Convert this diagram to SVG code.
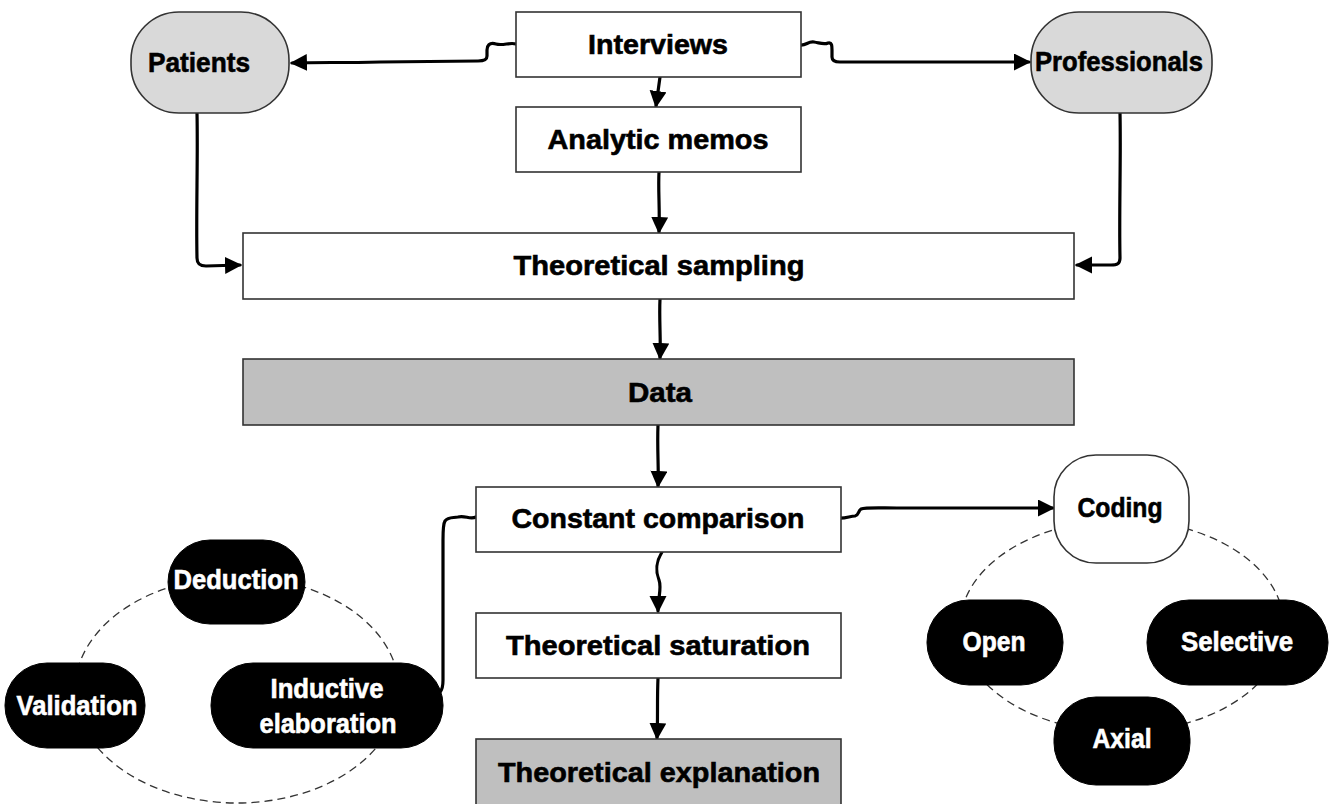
<svg xmlns="http://www.w3.org/2000/svg" width="1333" height="804" viewBox="0 0 1333 804">
  <defs>
    <marker id="arrow" markerWidth="19" markerHeight="18" refX="15" refY="8.5" orient="auto" markerUnits="userSpaceOnUse">
      <path d="M0,0 L17,8.5 L0,17 Z" fill="#000"/>
    </marker>
    <style>
      .box { fill: #ffffff; stroke: #333333; stroke-width: 1.6; }
      .soft { fill: #d9d9d9; stroke: #333333; stroke-width: 1.6; }
      .dark { fill: #bfbfbf; stroke: #333333; stroke-width: 1.6; }
      .pill { fill: #000000; stroke: #000000; stroke-width: 1; }
      .ring { fill: none; stroke: #333333; stroke-width: 1.3; stroke-dasharray: 8 5; }
      .link { fill: none; stroke: #000000; stroke-width: 3.2; stroke-linecap: round; stroke-linejoin: round; }
      .lbl { font-family: "Liberation Sans", Arial, sans-serif; font-weight: bold; font-size: 28px; text-anchor: middle; fill: #000000; stroke: #000000; stroke-width: 0.6; }
      .inv { fill: #ffffff; stroke: #ffffff; }
    </style>
  </defs>

  <rect x="0" y="0" width="1333" height="804" fill="#ffffff"/>

  <!-- dashed cycles behind the method pills -->
  <g id="cycles">
    <ellipse class="ring" cx="237" cy="690" rx="162" ry="113"/>
    <ellipse class="ring" cx="1122" cy="626" rx="162" ry="106"/>
  </g>

  <!-- connectors -->
  <g id="connectors">
    <!-- Interviews -> Patients -->
    <path class="link" marker-end="url(#arrow)" d="M516,44 C510,42 503,46 496,44 C489,42 487,46 487,50 L487,56 C487,60 484,61 478,61 L380,62 C340,63 320,62 292,63"/>
    <!-- Interviews -> Professionals -->
    <path class="link" marker-end="url(#arrow)" d="M800,45 C806,46 808,41 814,42 C820,43 824,45 828,43 C832,42 832,46 832,50 L832,57 C832,60 835,62 840,62 L1029,62"/>
    <!-- Interviews -> Analytic memos -->
    <path class="link" marker-end="url(#arrow)" d="M660,77 L656,106"/>
    <!-- Analytic memos -> Theoretical sampling -->
    <path class="link" marker-end="url(#arrow)" d="M659,172 C658,190 660,210 659,232"/>
    <!-- Patients -> Theoretical sampling -->
    <path class="link" marker-end="url(#arrow)" d="M197,113 C198,160 196,210 197,258 C197,264 200,266 206,266 L240,265"/>
    <!-- Professionals -> Theoretical sampling -->
    <path class="link" marker-end="url(#arrow)" d="M1120,113 C1121,160 1119,210 1120,258 C1120,264 1117,265 1111,265 L1077,265"/>
    <!-- Theoretical sampling -> Data -->
    <path class="link" marker-end="url(#arrow)" d="M660,299 C659,320 661,340 660,358"/>
    <!-- Data -> Constant comparison -->
    <path class="link" marker-end="url(#arrow)" d="M658,425 C657,450 659,470 658,486"/>
    <!-- Constant comparison -> Theoretical saturation -->
    <path class="link" marker-end="url(#arrow)" d="M662,552 C656,562 655,570 659,580 C662,588 658,598 658,611"/>
    <!-- Theoretical saturation -> Theoretical explanation -->
    <path class="link" marker-end="url(#arrow)" d="M658,678 C657,700 658,720 657,738"/>
    <!-- Constant comparison -> Coding -->
    <path class="link" marker-end="url(#arrow)" d="M838,518 C845,519 850,516 855,516 C859,515 858,511 861,509 C866,507 880,508 900,508 L1053,508"/>
    <!-- Constant comparison to Inductive elaboration -->
    <path class="link" d="M476,517 C470,520 465,515 458,517 C452,518 448,517 445,521 C443,524 443,530 443,540 L443,680 C443,686 442,690 440,692"/>
  </g>

  <g id="interviews">
    <rect class="box" x="516" y="12" width="285" height="65"/>
    <text class="lbl" x="658" y="54" textLength="140" lengthAdjust="spacingAndGlyphs">Interviews</text>
  </g>

  <g id="patients">
    <rect class="soft" x="131" y="12" width="158" height="101" rx="48" ry="48"/>
    <text class="lbl" x="199" y="72" textLength="102" lengthAdjust="spacingAndGlyphs">Patients</text>
  </g>

  <g id="professionals">
    <rect class="soft" x="1031" y="12" width="181" height="101" rx="48" ry="48"/>
    <text class="lbl" x="1119" y="71" textLength="168" lengthAdjust="spacingAndGlyphs">Professionals</text>
  </g>

  <g id="analytic-memos">
    <rect class="box" x="516" y="107" width="285" height="65"/>
    <text class="lbl" x="658" y="149" textLength="221" lengthAdjust="spacingAndGlyphs">Analytic memos</text>
  </g>

  <g id="theoretical-sampling">
    <rect class="box" x="243" y="233" width="831" height="66"/>
    <text class="lbl" x="659" y="275" textLength="291" lengthAdjust="spacingAndGlyphs">Theoretical sampling</text>
  </g>

  <g id="data">
    <rect class="dark" x="243" y="359" width="831" height="66"/>
    <text class="lbl" x="660" y="402" textLength="64" lengthAdjust="spacingAndGlyphs">Data</text>
  </g>

  <g id="constant-comparison">
    <rect class="box" x="476" y="487" width="365" height="65"/>
    <text class="lbl" x="658" y="528" textLength="293" lengthAdjust="spacingAndGlyphs">Constant comparison</text>
  </g>

  <g id="theoretical-saturation">
    <rect class="box" x="476" y="613" width="365" height="65"/>
    <text class="lbl" x="658" y="655" textLength="304" lengthAdjust="spacingAndGlyphs">Theoretical saturation</text>
  </g>

  <g id="theoretical-explanation">
    <rect class="dark" x="476" y="739" width="365" height="72"/>
    <text class="lbl" x="659" y="782" textLength="322" lengthAdjust="spacingAndGlyphs">Theoretical explanation</text>
  </g>

  <g id="deduction">
    <rect class="pill" x="168" y="540" width="137" height="84" rx="42" ry="42"/>
    <text class="lbl inv" x="236" y="589" textLength="125" lengthAdjust="spacingAndGlyphs">Deduction</text>
  </g>

  <g id="validation">
    <rect class="pill" x="5" y="663" width="140" height="85" rx="42" ry="42"/>
    <text class="lbl inv" x="77" y="715" textLength="121" lengthAdjust="spacingAndGlyphs">Validation</text>
  </g>

  <g id="inductive-elaboration">
    <rect class="pill" x="211" y="663" width="232" height="85" rx="42" ry="42"/>
    <text class="lbl inv" x="327" y="698" textLength="113" lengthAdjust="spacingAndGlyphs">Inductive</text>
    <text class="lbl inv" x="328" y="733" textLength="137" lengthAdjust="spacingAndGlyphs">elaboration</text>
  </g>

  <g id="coding">
    <rect class="box" x="1054" y="455" width="135" height="108" rx="42" ry="42"/>
    <text class="lbl" x="1120" y="517" textLength="85" lengthAdjust="spacingAndGlyphs">Coding</text>
  </g>

  <g id="open">
    <rect class="pill" x="927" y="600" width="136" height="85" rx="42" ry="42"/>
    <text class="lbl inv" x="994" y="651" textLength="63" lengthAdjust="spacingAndGlyphs">Open</text>
  </g>

  <g id="selective">
    <rect class="pill" x="1147" y="600" width="181" height="85" rx="42" ry="42"/>
    <text class="lbl inv" x="1237" y="651" textLength="112" lengthAdjust="spacingAndGlyphs">Selective</text>
  </g>

  <g id="axial">
    <rect class="pill" x="1054" y="697" width="136" height="88" rx="42" ry="42"/>
    <text class="lbl inv" x="1122" y="748" textLength="59" lengthAdjust="spacingAndGlyphs">Axial</text>
  </g>
</svg>
